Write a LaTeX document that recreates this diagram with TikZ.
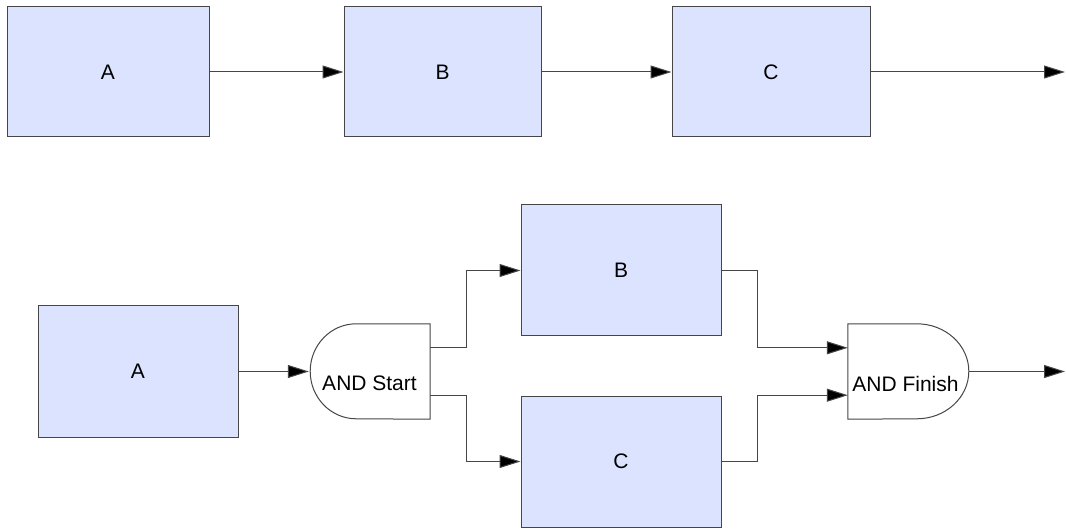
\documentclass[tikz,border=0pt]{standalone}
\usepackage{fontspec}
\setmainfont{Liberation Sans}
\usetikzlibrary{arrows.meta}
\definecolor{boxfill}{RGB}{219,227,254}
\definecolor{edge}{RGB}{70,70,70}
\begin{document}
\begin{tikzpicture}[x=1pt,y=-1pt,
  every node/.style={font=\fontsize{21}{25}\selectfont},
  task/.style={draw=edge, line width=1pt, fill=boxfill, inner sep=0pt, minimum width=#1},
  task/.default=200,
  gate/.style={inner sep=0pt, minimum width=121pt, minimum height=95pt},
  arr/.style={draw=edge, line width=1pt, -{Triangle[length=21pt,width=13pt,fill=black]}},
  gl/.style={draw=edge, line width=1pt, fill=white}]
\useasboundingbox (0,0) rectangle (1066,529);
% top row
\node[task=202, minimum height=130pt] (a1) at (108,72) {A};
\node[task=197, minimum height=130pt] (b1) at (442.5,72) {B};
\node[task=198, minimum height=130pt] (c1) at (771,72) {C};
\coordinate (e1) at (1065,72);
\draw[arr] (a1) -- (b1);
\draw[arr] (b1) -- (c1);
\draw[arr] (c1) -- (e1);
% bottom row
\node[task=200, minimum height=131pt] (a2) at (138,371.5) {A};
\node[task=200, minimum height=131pt] (b2) at (621,270.5) {B};
\node[task=200, minimum height=131pt] (c2) at (621,461.5) {C};
% AND Start gate
\node[gate] (s) at (369.5,371.5) {};
\draw[gl] (s.north east) -- ++(-74,0) arc[start angle=270, end angle=90, x radius=46, y radius=47.5] -- (s.south east) -- cycle;
\node (st) at ([yshift=-12pt]s.center) {AND Start};
% AND Finish gate
\node[gate] (f) at (908.5,371.5) {};
\draw[gl] (f.north west) -- ++(69,0) arc[start angle=-90, end angle=90, x radius=52, y radius=47.5] -- (f.south west) -- cycle;
\node (ft) at ([yshift=-12pt,xshift=-3pt]f.center) {AND Finish};
\coordinate (e2) at (1065,371.5);
% connectors
\draw[arr] (a2) -- (s.west);
\draw[arr] ([yshift=-24pt]s.north east) -- ++(36,0) |- (b2.west);
\draw[arr] ([yshift=24pt]s.south east) -- ++(36,0) |- (c2.west);
\draw[arr] (b2.east) -- ++(36,0) |- ([yshift=-24pt]f.north west);
\draw[arr] (c2.east) -- ++(36,0) |- ([yshift=24pt]f.south west);
\draw[arr] (f.east) -- (e2);
\end{tikzpicture}
\end{document}
